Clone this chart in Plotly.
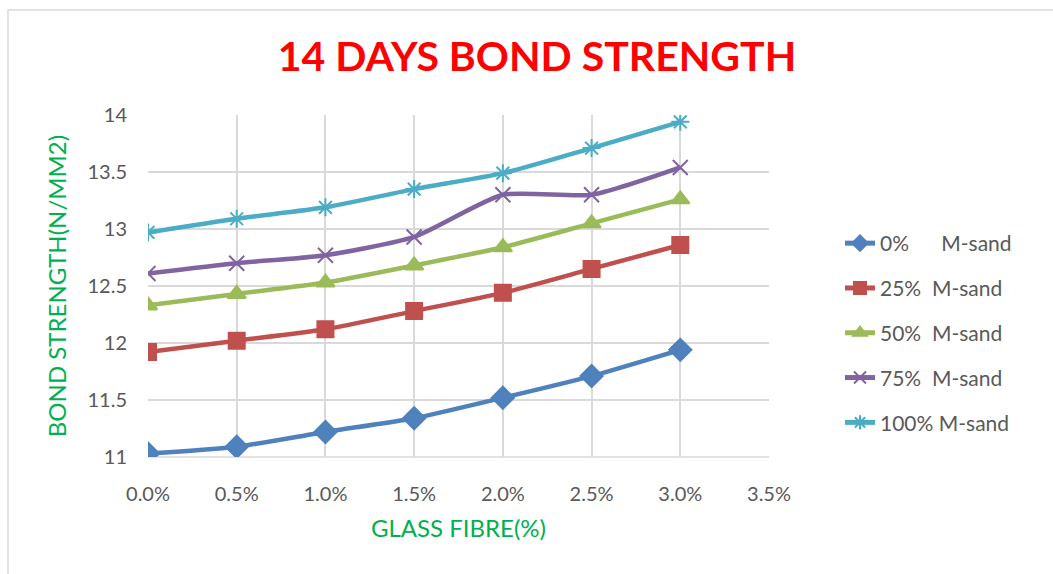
import plotly.graph_objects as go

x_vals = [0.0, 0.005, 0.010, 0.015, 0.020, 0.025, 0.030]
series_names = ["0%      M-sand", "25%  M-sand", "50%  M-sand", "75%  M-sand", "100% M-sand"]
s0 = [11.03, 11.09, 11.22, 11.34, 11.52, 11.71, 11.94]
s25 = [11.92, 12.02, 12.12, 12.28, 12.44, 12.65, 12.86]
s50 = [12.33, 12.43, 12.53, 12.68, 12.84, 13.05, 13.26]
s75 = [12.61, 12.70, 12.77, 12.93, 13.30, 13.30, 13.54]
s100 = [12.97, 13.09, 13.19, 13.35, 13.49, 13.71, 13.94]
x_ticks = [0.0, 0.005, 0.010, 0.015, 0.020, 0.025, 0.030, 0.035]
x_tick_text = ["0.0%", "0.5%", "1.0%", "1.5%", "2.0%", "2.5%", "3.0%", "3.5%"]
y_ticks = [11, 11.5, 12, 12.5, 13, 13.5, 14]
y_tick_text = ["11", "11.5", "12", "12.5", "13", "13.5", "14"]

colors = ["#4F81BD", "#C0504D", "#9BBB59", "#8064A2", "#4BACC6"]
symbols = ["diamond", "square", "triangle-up", "x-thin-open", "asterisk-open"]
sizes = [17, 16, 16, 15, 15]
data = [s0, s25, s50, s75, s100]

fig = go.Figure()
for i, (name, ys, c, sym, sz) in enumerate(zip(series_names, data, colors, symbols, sizes)):
    fig.add_trace(go.Scatter(
        x=x_vals, y=ys, name=name, mode="lines+markers", legendgroup=f"g{i}",
        line=dict(color=c, width=4.5, shape="spline", smoothing=0.6),
        marker=dict(symbol=sym, size=sz, color=c, line=dict(color=c, width=2)),
    ))

L, R, T, B = 148, 1053 - 769, 115, 574 - 457
pw, ph = 769 - 148, 457 - 115

fig.add_shape(type="rect", xref="paper", yref="paper",
              x0=(8 - L) / pw, x1=(1070 - L) / pw,
              y0=(457 - 590) / ph, y1=1 + (T - 10) / ph,
              line=dict(color="#d9d9d9", width=1.5), fillcolor="rgba(0,0,0,0)", layer="below")
fig.add_shape(type="line", xref="paper", yref="paper", x0=0, x1=1, y0=0, y1=0,
              line=dict(color="#d9d9d9", width=1.5), layer="below")

font_family = "Lato, 'Open Sans', sans-serif"
fig.update_layout(
    width=1053, height=574,
    margin=dict(l=L, r=R, t=T, b=B),
    paper_bgcolor="white", plot_bgcolor="white",
    title=dict(text="<b>14 DAYS BOND STRENGTH</b>", x=537 / 1053, xanchor="center",
               y=1 - 57 / 574, yanchor="middle",
               font=dict(family=font_family, size=41, color="#FF0000")),
    font=dict(family=font_family, size=20, color="#595959"),
    xaxis=dict(range=[0, 0.035], tickvals=x_ticks, ticktext=x_tick_text,
               showgrid=True, gridcolor="#d9d9d9", gridwidth=1.5, zeroline=False,
               showline=False, ticks="", ticklabelstandoff=23,
               tickfont=dict(size=20, color="#595959"),
               title=dict(text="GLASS FIBRE(%)", font=dict(size=24, color="#00B050"), standoff=16)),
    yaxis=dict(range=[11, 14], tickvals=y_ticks, ticktext=y_tick_text,
               showgrid=True, gridcolor="#d9d9d9", gridwidth=1.5, zeroline=False,
               showline=False, ticks="", ticklabelstandoff=20,
               tickfont=dict(size=20, color="#595959"),
               title=dict(text="BOND STRENGTH(N/MM2)", font=dict(size=24, color="#00B050"), standoff=14)),
    legend=dict(x=1 + (840 - 769) / pw, xanchor="left", y=1 - (223 - T) / ph, yanchor="top",
                font=dict(size=21, color="#595959"), tracegroupgap=14.5, itemsizing="constant",
                bgcolor="rgba(0,0,0,0)"),
    showlegend=True,
)

fig.write_html("out.html")
